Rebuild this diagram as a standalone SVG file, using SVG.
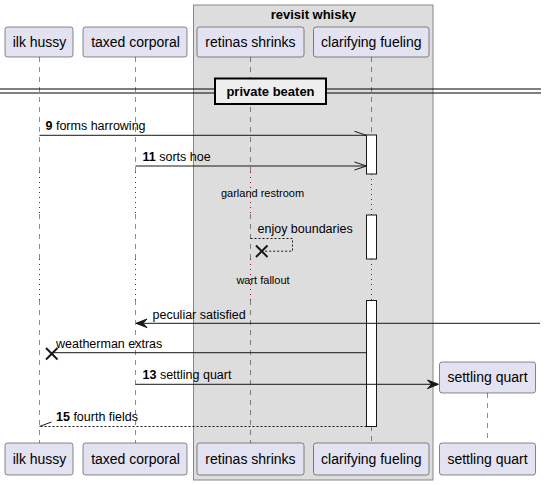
<svg xmlns="http://www.w3.org/2000/svg" width="546" height="485" viewBox="0 0 546 485">
<style>
.p{fill:#E2E2F0;stroke:#181818;stroke-width:0.5}
.pt{font-family:"Liberation Sans",Arial,sans-serif;font-size:14px;fill:#000;text-anchor:middle}
.life{stroke:#181818;stroke-width:0.5;stroke-dasharray:5,5;fill:none}
.dly{stroke:#A80036;stroke-width:1;stroke-dasharray:1,4;fill:none}
.act{fill:#FFFFFF;stroke:#181818;stroke-width:1}
.m{stroke:#181818;stroke-width:1;fill:none}
.md{stroke:#181818;stroke-width:1;fill:none;stroke-dasharray:2,2}
.ah{fill:#181818;stroke:#181818;stroke-width:1}
.t{font-family:"Liberation Sans",Arial,sans-serif;font-size:12.5px;fill:#000}
.b{font-weight:bold}
.st{font-family:"Liberation Sans",Arial,sans-serif;font-size:11px;fill:#000;text-anchor:middle}
</style>
<rect width="546" height="485" fill="#FFFFFF"/>
<g id="box-revisit-whisky">
<rect x="193.5" y="5" width="239.5" height="475" fill="#DDDDDD" stroke="#888888" stroke-width="1"/>
<text x="313.3" y="19" font-family="Liberation Sans,Arial,sans-serif" font-size="13" font-weight="bold" text-anchor="middle">revisit whisky</text>
</g>
<g id="lifelines">
<path class="life" d="M39.5,57V172M39.5,214V259M39.5,300V443"/>
<path class="life" d="M135.5,57V172M135.5,214V259M135.5,300V443"/>
<path class="life" d="M250.5,57V172M250.5,214V259M250.5,300V443"/>
<path class="life" d="M371.5,57V135M371.5,426V443"/>
<path class="life" d="M487.5,393V443"/>
<path class="dly" d="M39.5,172V214M39.5,259V300M135.5,172V214M135.5,259V300M250.5,172V214M250.5,259V300M371.5,174V215M371.5,259V300"/>
</g>
<g id="ilk-hussy">
<rect class="p" x="5" y="27" width="68" height="30" rx="2.5"/>
<text class="pt" x="39.5" y="47">ilk hussy</text>
<rect class="p" x="5" y="443" width="68" height="32" rx="2.5"/>
<text class="pt" x="39.5" y="464">ilk hussy</text>
</g>
<g id="taxed-corporal">
<rect class="p" x="83" y="27" width="104" height="30" rx="2.5"/>
<text class="pt" x="135.5" y="47">taxed corporal</text>
<rect class="p" x="83" y="443" width="104" height="32" rx="2.5"/>
<text class="pt" x="135.5" y="464">taxed corporal</text>
</g>
<g id="retinas-shrinks">
<rect class="p" x="197" y="27" width="107" height="30" rx="2.5"/>
<text class="pt" x="250.5" y="47">retinas shrinks</text>
<rect class="p" x="197" y="443" width="107" height="32" rx="2.5"/>
<text class="pt" x="250.5" y="464">retinas shrinks</text>
</g>
<g id="clarifying-fueling">
<rect class="p" x="313.5" y="27" width="115.5" height="30" rx="2.5"/>
<text class="pt" x="371.3" y="47">clarifying fueling</text>
<rect class="p" x="313.5" y="443" width="115.5" height="32" rx="2.5"/>
<text class="pt" x="371.3" y="464">clarifying fueling</text>
<rect class="act" x="366.5" y="135" width="10" height="39"/>
<rect class="act" x="366.5" y="215" width="10" height="44"/>
<rect class="act" x="366.5" y="300.5" width="10" height="126"/>
</g>
<g id="settling-quart">
<rect class="p" x="439.5" y="362" width="96" height="31" rx="2.5"/>
<text class="pt" x="487.5" y="382">settling quart</text>
<rect class="p" x="439.5" y="443" width="96" height="32" rx="2.5"/>
<text class="pt" x="487.5" y="464">settling quart</text>
</g>
<g id="divider-private-beaten">
<path d="M0,89H541M0,93H541" stroke="#000000" stroke-width="1" fill="none"/>
<rect x="215" y="78.5" width="111" height="25.5" fill="#EEEEEE" stroke="#000000" stroke-width="2"/>
<text x="270.5" y="96" font-family="Liberation Sans,Arial,sans-serif" font-size="13" font-weight="bold" text-anchor="middle">private beaten</text>
</g>
<g id="delays">
<text class="st" x="262.5" y="197">garland restroom</text>
<text class="st" x="263" y="284">wart fallout</text>
</g>
<g id="connectors">
<path class="m" d="M39.5,135.3H366.5M354.5,131.3L366.5,135.3"/>
<text class="t" x="45.5" y="130"><tspan class="b">9</tspan> forms harrowing</text>
<path class="m" d="M135.5,166H366.5M354.5,162L366.5,166L354.5,170"/>
<text class="t" x="142.5" y="160.5"><tspan class="b">11</tspan> sorts hoe</text>
<path class="md" d="M250.5,238.5H292.5V251.2H262"/>
<path d="M256,245.5L267.5,257M256,257L267.5,245.5" stroke="#181818" stroke-width="2" fill="none"/>
<text class="t" x="257.5" y="232.5">enjoy boundaries</text>
<path class="m" d="M540,323.3H137"/>
<polygon class="ah" points="136,323.3 147,319 143,323.3 147,327.6"/>
<text class="t" x="152.5" y="318.5">peculiar satisfied</text>
<path class="m" d="M366.5,352.7H52"/>
<path d="M46,348L57.5,359.5M46,359.5L57.5,348" stroke="#181818" stroke-width="2" fill="none"/>
<text class="t" x="56" y="347.5">weatherman extras</text>
<path class="m" d="M135.5,384.3H437"/>
<polygon class="ah" points="438.5,384.3 427.5,380 431.5,384.3 427.5,388.6"/>
<text class="t" x="142.5" y="378.5"><tspan class="b">13</tspan> settling quart</text>
<path class="md" d="M366.5,426.5H39.5"/>
<path class="m" d="M39.5,426.5L51.5,422"/>
<text class="t" x="56" y="420.8"><tspan class="b">15</tspan> fourth fields</text>
</g>
</svg>
